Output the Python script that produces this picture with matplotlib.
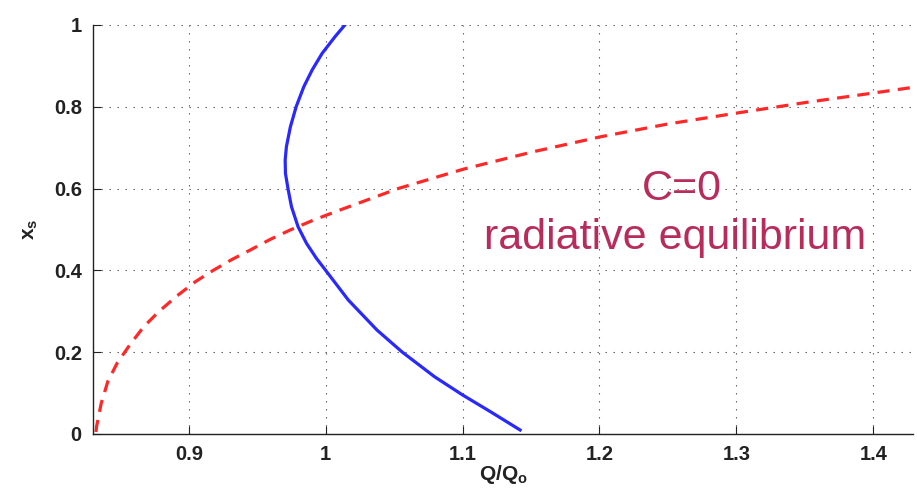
import matplotlib.pyplot as plt

plt.rcParams['font.family'] = ['Liberation Sans', 'DejaVu Sans']
plt.rcParams['mathtext.fontset'] = 'custom'
plt.rcParams['mathtext.bf'] = 'Liberation Sans:bold'
plt.rcParams['mathtext.rm'] = 'Liberation Sans'

# blue curve (solid)
blue_q = [1.0140, 1.0068, 0.9974, 0.9901, 0.9840, 0.9784, 0.9742, 0.9713, 0.9704, 0.9706,
          0.9725, 0.9750, 0.9798, 0.9860, 0.9932, 1.0, 1.0165, 1.0375, 1.056, 1.0795,
          1.1, 1.1203, 1.142]
blue_x = [1.0, 0.9714, 0.9307, 0.890, 0.849, 0.800, 0.751, 0.7025, 0.670, 0.637,
          0.599, 0.5557, 0.5068, 0.466, 0.4296, 0.4, 0.3276, 0.254, 0.2, 0.140,
          0.0954, 0.0546, 0.0098]

# red curve (dashed)
red_q = [0.8322, 0.8326, 0.836, 0.8408, 0.8476, 0.8569, 0.8671, 0.878, 0.8915, 0.9048,
         0.9178, 0.9317, 0.945, 0.9596, 0.9742, 0.99, 1.0071, 1.0528, 1.1007, 1.1515,
         1.2007, 1.2501, 1.3009, 1.3516, 1.4007, 1.43]
red_x = [0.005, 0.018, 0.075, 0.128, 0.173, 0.218, 0.2624, 0.299, 0.338, 0.3724,
         0.400, 0.427, 0.45, 0.476, 0.499, 0.5215, 0.5435, 0.60, 0.6476, 0.690,
         0.7266, 0.758, 0.785, 0.811, 0.834, 0.848]

xticks = [0.9, 1.0, 1.1, 1.2, 1.3, 1.4]
xticklabels = ['0.9', '1', '1.1', '1.2', '1.3', '1.4']
yticks = [0, 0.2, 0.4, 0.6, 0.8, 1.0]
yticklabels = ['0', '0.2', '0.4', '0.6', '0.8', '1']

fig = plt.figure(figsize=(9.17, 4.92), dpi=100)
ax = fig.add_axes([0.1014, 0.1179, 0.8942, 0.8313])

ax.plot(red_q, red_x, color='#FF2828', lw=2.3, dashes=(3.8, 2.6), solid_capstyle='butt')
ax.plot(blue_q, blue_x, color='#2828FF', lw=2.3)

ax.set_xlim(0.830, 1.429)
ax.set_ylim(0, 1)
ax.set_xticks(xticks)
ax.set_xticklabels(xticklabels)
ax.set_yticks(yticks)
ax.set_yticklabels(yticklabels)
ax.tick_params(direction='in', length=6, width=0.8, labelsize=14.5, colors='#222222', pad=8)
for lab in ax.get_xticklabels() + ax.get_yticklabels():
    lab.set_fontweight('bold')

ax.grid(True, linestyle=(0, (1.2, 6)), color='#555555', lw=0.8)
ax.spines['top'].set_visible(False)
ax.spines['right'].set_visible(False)
for s in ['left', 'bottom']:
    ax.spines[s].set_color('#222222')
    ax.spines[s].set_linewidth(1.0)

ax.set_xlabel(r'$\mathbf{Q/Q_o}$', fontsize=15, color='#222222', labelpad=-1)
ax.set_ylabel(r'$\mathbf{x_s}$', fontsize=15, color='#222222', labelpad=10)

ax.text(1.26, 0.60, 'C=0', color='#B82C5C', fontsize=31, ha='center', va='center')
ax.text(1.255, 0.48, 'radiative equilibrium', color='#B82C5C', fontsize=31, ha='center', va='center')

fig.savefig('out.png', dpi=100)
